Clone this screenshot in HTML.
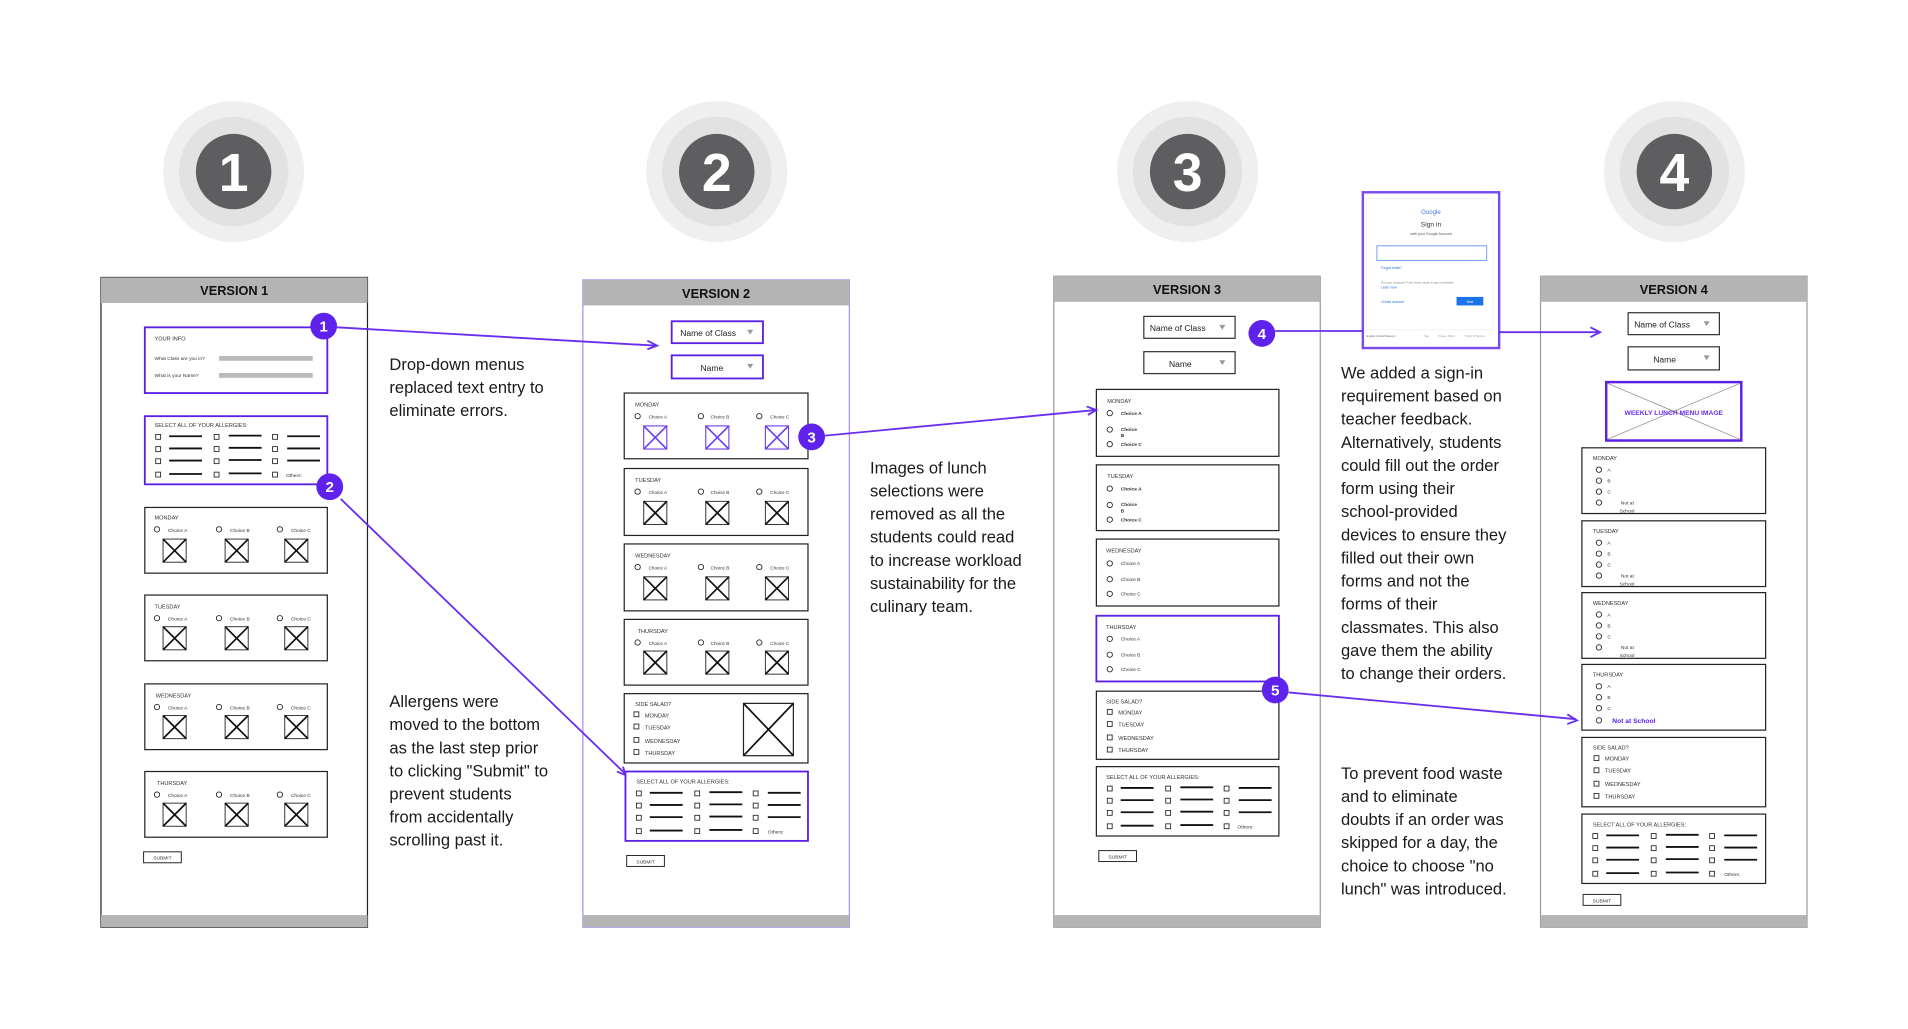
<!DOCTYPE html>
<html><head><meta charset="utf-8"><style>
html,body{margin:0;padding:0;background:#fff;}
svg{display:block;}
text{font-family:"Liberation Sans",sans-serif;}
.t{font-size:13.6px;fill:#1a1a1a;}
.s{font-size:4.6px;fill:#333;}
.l{font-size:5.2px;fill:#222;}
.h{font-size:10.5px;font-weight:bold;fill:#111;}
.b{font-size:12.5px;font-weight:bold;fill:#fff;}
.n{font-size:44px;font-weight:bold;fill:#fff;}
</style></head><body>
<svg width="1908" height="1029" viewBox="0 0 1568 845.6" preserveAspectRatio="none" xmlns="http://www.w3.org/2000/svg">
<defs>
<g id="xb"><rect x="0" y="0" width="19" height="19" fill="#fff" stroke="#333" stroke-width="0.8"/><path d="M0 0L19 19M19 0L0 19" stroke="#111" stroke-width="1.4"/></g>
<g id="xp"><rect x="0" y="0" width="19" height="19" fill="#fff" stroke="#6a3cf0" stroke-width="0.9"/><path d="M0 0L19 19M19 0L0 19" stroke="#6a3cf0" stroke-width="1.3"/></g>
<g id="ra"><circle r="2.2" fill="#fff" stroke="#222" stroke-width="0.7"/></g>
<g id="cb"><rect x="-2" y="-2" width="4" height="4" fill="#fff" stroke="#222" stroke-width="0.7"/></g>
<g id="ag">
<use href="#cb" x="11" y="17"/><use href="#cb" x="11" y="27"/><use href="#cb" x="11" y="37"/><use href="#cb" x="11" y="48"/>
<use href="#cb" x="59" y="17"/><use href="#cb" x="59" y="27"/><use href="#cb" x="59" y="37"/><use href="#cb" x="59" y="48"/>
<use href="#cb" x="107" y="17"/><use href="#cb" x="107" y="27"/><use href="#cb" x="107" y="37"/><use href="#cb" x="107" y="48"/>
<path d="M20 16.5H47M20 26.5H47M20 36.5H47M20 47.5H47M69 16H96M69 26H96M69 36H96M69 47H96M117 16.5H144M117 26.5H144M117 36.5H144" stroke="#111" stroke-width="1.5"/>
</g>
<g id="ss">
<use href="#cb" x="10" y="17"/><use href="#cb" x="10" y="27"/><use href="#cb" x="10" y="38"/><use href="#cb" x="10" y="48"/>
</g>
</defs>

<g>
<circle cx="192" cy="141" r="58" fill="#efefef"/><circle cx="192" cy="141" r="45" fill="#e2e2e2"/><circle cx="192" cy="141" r="31" fill="#5e5e61"/><text x="192" y="157" text-anchor="middle" class="n">1</text>
<circle cx="589" cy="141" r="58" fill="#efefef"/><circle cx="589" cy="141" r="45" fill="#e2e2e2"/><circle cx="589" cy="141" r="31" fill="#5e5e61"/><text x="589" y="157" text-anchor="middle" class="n">2</text>
<circle cx="976" cy="141" r="58" fill="#efefef"/><circle cx="976" cy="141" r="45" fill="#e2e2e2"/><circle cx="976" cy="141" r="31" fill="#5e5e61"/><text x="976" y="157" text-anchor="middle" class="n">3</text>
<circle cx="1376" cy="141" r="58" fill="#efefef"/><circle cx="1376" cy="141" r="45" fill="#e2e2e2"/><circle cx="1376" cy="141" r="31" fill="#5e5e61"/><text x="1376" y="157" text-anchor="middle" class="n">4</text>
</g>

<g transform="translate(83,228)">
<rect x="0" y="0" width="219" height="534" fill="#fff" stroke="#222" stroke-width="1"/>
<rect x="0" y="0" width="219" height="21" fill="#b4b4b4"/>
<rect x="0" y="524" width="219" height="10" fill="#b4b4b4"/>
<text x="109.5" y="14.5" text-anchor="middle" class="h">VERSION 1</text>
</g>
<g transform="translate(119,269)">
<rect width="150" height="54" fill="#fff" stroke="#5a20e6" stroke-width="1.5"/>
<text x="8" y="11" class="s">YOUR INFO</text>
<text x="8" y="27" class="s" style="font-size:4px">What Class are you in?</text>
<rect x="61" y="23.5" width="77" height="4" fill="#bbb"/>
<text x="8" y="41" class="s" style="font-size:4px">What is your Name?</text>
<rect x="61" y="37.5" width="77" height="4" fill="#bbb"/>
</g>
<g transform="translate(119,342)">
<rect width="150" height="56" fill="#fff" stroke="#5a20e6" stroke-width="1.5"/>
<text x="8" y="9" class="s">SELECT ALL OF YOUR ALLERGIES:</text>
<use href="#ag"/><text x="116" y="50" class="s" style="font-size:4px">Others:</text>
</g>
<g transform="translate(119,417)">
<rect width="150" height="54" fill="#fff" stroke="#222" stroke-width="1"/>
<text x="8" y="10" class="s">MONDAY</text>
<use href="#ra" x="10" y="18"/><text x="19" y="20" class="s" style="font-size:4px">Choice A</text>
<use href="#ra" x="61" y="18"/><text x="70" y="20" class="s" style="font-size:4px">Choice B</text>
<use href="#ra" x="111" y="18"/><text x="120" y="20" class="s" style="font-size:4px">Choice C</text>
<use href="#xb" x="15" y="26"/><use href="#xb" x="66" y="26"/><use href="#xb" x="115" y="26"/>
</g>
<g transform="translate(119,489)">
<rect width="150" height="54" fill="#fff" stroke="#222" stroke-width="1"/>
<text x="8" y="11" class="s">TUESDAY</text>
<use href="#ra" x="10" y="19"/><text x="19" y="21" class="s" style="font-size:4px">Choice A</text>
<use href="#ra" x="61" y="19"/><text x="70" y="21" class="s" style="font-size:4px">Choice B</text>
<use href="#ra" x="111" y="19"/><text x="120" y="21" class="s" style="font-size:4px">Choice C</text>
<use href="#xb" x="15" y="26"/><use href="#xb" x="66" y="26"/><use href="#xb" x="115" y="26"/>
</g>
<g transform="translate(119,562)">
<rect width="150" height="54" fill="#fff" stroke="#222" stroke-width="1"/>
<text x="9" y="11" class="s">WEDNESDAY</text>
<use href="#ra" x="10" y="19"/><text x="19" y="21" class="s" style="font-size:4px">Choice A</text>
<use href="#ra" x="61" y="19"/><text x="70" y="21" class="s" style="font-size:4px">Choice B</text>
<use href="#ra" x="111" y="19"/><text x="120" y="21" class="s" style="font-size:4px">Choice C</text>
<use href="#xb" x="15" y="26"/><use href="#xb" x="66" y="26"/><use href="#xb" x="115" y="26"/>
</g>
<g transform="translate(119,634)">
<rect width="150" height="54" fill="#fff" stroke="#222" stroke-width="1"/>
<text x="10" y="11" class="s">THURSDAY</text>
<use href="#ra" x="10" y="19"/><text x="19" y="21" class="s" style="font-size:4px">Choice A</text>
<use href="#ra" x="61" y="19"/><text x="70" y="21" class="s" style="font-size:4px">Choice B</text>
<use href="#ra" x="111" y="19"/><text x="120" y="21" class="s" style="font-size:4px">Choice C</text>
<use href="#xb" x="15" y="26"/><use href="#xb" x="66" y="26"/><use href="#xb" x="115" y="26"/>
</g>
<rect x="118" y="700" width="31" height="9" fill="#fff" stroke="#222" stroke-width="0.8"/><text x="133.5" y="706.5" text-anchor="middle" class="s" style="font-size:4px">SUBMIT</text>

<g transform="translate(479,230)">
<rect x="0" y="0" width="219" height="532" fill="#fff" stroke="#a98ef5" stroke-width="1"/>
<rect x="0" y="0" width="219" height="21" fill="#b4b4b4"/>
<rect x="0" y="522" width="219" height="10" fill="#b4b4b4"/>
<text x="109.5" y="15" text-anchor="middle" class="h">VERSION 2</text>
</g>
<rect x="552" y="264" width="75" height="18" fill="#fff" stroke="#5a20e6" stroke-width="1.5"/><text x="559" y="276" class="l" style="font-size:7px">Name of Class</text><path d="M614 271h5l-2.5 4z" fill="#999"/>
<rect x="552" y="292" width="75" height="19" fill="#fff" stroke="#5a20e6" stroke-width="1.5"/><text x="585" y="305" text-anchor="middle" class="l" style="font-size:7px">Name</text><path d="M614 299h5l-2.5 4z" fill="#999"/>
<g transform="translate(513,323)">
<rect width="151" height="54" fill="#fff" stroke="#222" stroke-width="1"/>
<text x="9" y="11" class="s">MONDAY</text>
<use href="#ra" x="11" y="19"/><text x="20" y="21" class="s" style="font-size:3.8px">Choice A</text>
<use href="#ra" x="63" y="19"/><text x="71" y="21" class="s" style="font-size:3.8px">Choice B</text>
<use href="#ra" x="111" y="19"/><text x="120" y="21" class="s" style="font-size:3.8px">Choice C</text>
<use href="#xp" x="16" y="27"/><use href="#xp" x="67" y="27"/><use href="#xp" x="116" y="27"/>
</g>
<g transform="translate(513,385)">
<rect width="151" height="55" fill="#fff" stroke="#222" stroke-width="1"/>
<text x="9" y="11" class="s">TUESDAY</text>
<use href="#ra" x="11" y="19"/><text x="20" y="21" class="s" style="font-size:3.8px">Choice A</text>
<use href="#ra" x="63" y="19"/><text x="71" y="21" class="s" style="font-size:3.8px">Choice B</text>
<use href="#ra" x="111" y="19"/><text x="120" y="21" class="s" style="font-size:3.8px">Choice C</text>
<use href="#xb" x="16" y="27"/><use href="#xb" x="67" y="27"/><use href="#xb" x="116" y="27"/>
</g>
<g transform="translate(513,447)">
<rect width="151" height="55" fill="#fff" stroke="#222" stroke-width="1"/>
<text x="9" y="11" class="s">WEDNESDAY</text>
<use href="#ra" x="11" y="19"/><text x="20" y="21" class="s" style="font-size:3.8px">Choice A</text>
<use href="#ra" x="63" y="19"/><text x="71" y="21" class="s" style="font-size:3.8px">Choice B</text>
<use href="#ra" x="111" y="19"/><text x="120" y="21" class="s" style="font-size:3.8px">Choice C</text>
<use href="#xb" x="16" y="27"/><use href="#xb" x="67" y="27"/><use href="#xb" x="116" y="27"/>
</g>
<g transform="translate(513,509)">
<rect width="151" height="54" fill="#fff" stroke="#222" stroke-width="1"/>
<text x="11" y="11" class="s">THURSDAY</text>
<use href="#ra" x="11" y="19"/><text x="20" y="21" class="s" style="font-size:3.8px">Choice A</text>
<use href="#ra" x="63" y="19"/><text x="71" y="21" class="s" style="font-size:3.8px">Choice B</text>
<use href="#ra" x="111" y="19"/><text x="120" y="21" class="s" style="font-size:3.8px">Choice C</text>
<use href="#xb" x="16" y="26"/><use href="#xb" x="67" y="26"/><use href="#xb" x="116" y="26"/>
</g>
<g transform="translate(513,570)">
<rect width="151" height="57" fill="#fff" stroke="#222" stroke-width="1"/>
<text x="9" y="10" class="s">SIDE SALAD?</text>
<use href="#ss"/>
<text x="17" y="19.5" class="s">MONDAY</text><text x="17" y="29.5" class="s">TUESDAY</text><text x="17" y="40.5" class="s">WEDNESDAY</text><text x="17" y="50.5" class="s">THURSDAY</text>
<rect x="98" y="8" width="41" height="43" fill="#fff" stroke="#222" stroke-width="1"/><path d="M98 8L139 51M139 8L98 51" stroke="#111" stroke-width="1.4"/>
</g>
<g transform="translate(514,634)">
<rect width="150" height="57" fill="#fff" stroke="#5a20e6" stroke-width="1.5"/>
<text x="9" y="10" class="s">SELECT ALL OF YOUR ALLERGIES:</text>
<use href="#ag" y="1"/><text x="117" y="51" class="s" style="font-size:4px">Others:</text>
</g>
<rect x="515" y="703" width="31" height="9" fill="#fff" stroke="#222" stroke-width="0.8"/><text x="530.5" y="709.5" text-anchor="middle" class="s" style="font-size:4px">SUBMIT</text>

<g transform="translate(866,227)">
<rect x="0" y="0" width="219" height="535" fill="#fff" stroke="#999" stroke-width="1"/>
<rect x="0" y="0" width="219" height="21" fill="#b4b4b4"/>
<rect x="0" y="525" width="219" height="10" fill="#b4b4b4"/>
<text x="109.5" y="14.5" text-anchor="middle" class="h">VERSION 3</text>
</g>
<rect x="940" y="260" width="75" height="18" fill="#fff" stroke="#333" stroke-width="1"/><text x="945" y="272" class="l" style="font-size:7px">Name of Class</text><path d="M1002 267h5l-2.5 4z" fill="#999"/>
<rect x="940" y="289" width="75" height="18" fill="#fff" stroke="#333" stroke-width="1"/><text x="970" y="301.5" text-anchor="middle" class="l" style="font-size:7px">Name</text><path d="M1002 296h5l-2.5 4z" fill="#999"/>
<g transform="translate(901,320)">
<rect width="150" height="55" fill="#fff" stroke="#222" stroke-width="1"/>
<text x="9" y="11" class="s">MONDAY</text>
<use href="#ra" x="11" y="19.5"/><text x="20" y="21" class="s" style="font-size:4px;font-weight:bold">Choice A</text>
<use href="#ra" x="11" y="33"/><text x="20" y="34" class="s" style="font-size:4px;font-weight:bold">Choice</text><text x="20" y="39" class="s" style="font-size:4px;font-weight:bold">B</text>
<use href="#ra" x="11" y="45"/><text x="20" y="46.5" class="s" style="font-size:4px;font-weight:bold">Choice C</text>
</g>
<g transform="translate(901,382)">
<rect width="150" height="54" fill="#fff" stroke="#222" stroke-width="1"/>
<text x="9" y="11" class="s">TUESDAY</text>
<use href="#ra" x="11" y="19.5"/><text x="20" y="21" class="s" style="font-size:4px;font-weight:bold">Choice A</text>
<use href="#ra" x="11" y="33"/><text x="20" y="34" class="s" style="font-size:4px;font-weight:bold">Choice</text><text x="20" y="39" class="s" style="font-size:4px;font-weight:bold">B</text>
<use href="#ra" x="11" y="45"/><text x="20" y="46.5" class="s" style="font-size:4px;font-weight:bold">Choice C</text>
</g>
<g transform="translate(901,443)">
<rect width="150" height="55" fill="#fff" stroke="#222" stroke-width="1"/>
<text x="8" y="11" class="s">WEDNESDAY</text>
<use href="#ra" x="11" y="20"/><text x="20" y="21.5" class="s" style="font-size:4px">Choice A</text>
<use href="#ra" x="11" y="33"/><text x="20" y="34.5" class="s" style="font-size:4px">Choice B</text>
<use href="#ra" x="11" y="45"/><text x="20" y="46.5" class="s" style="font-size:4px">Choice C</text>
</g>
<g transform="translate(901,506)">
<rect width="150" height="54" fill="#fff" stroke="#5a20e6" stroke-width="1.5"/>
<text x="8" y="11" class="s">THURSDAY</text>
<use href="#ra" x="11" y="19"/><text x="20" y="20.5" class="s" style="font-size:4px">Choice A</text>
<use href="#ra" x="11" y="32"/><text x="20" y="33.5" class="s" style="font-size:4px">Choice B</text>
<use href="#ra" x="11" y="44"/><text x="20" y="45.5" class="s" style="font-size:4px">Choice C</text>
</g>
<g transform="translate(901,568)">
<rect width="150" height="56" fill="#fff" stroke="#222" stroke-width="1"/>
<text x="8" y="10" class="s">SIDE SALAD?</text>
<use href="#ss" x="1"/>
<text x="18" y="19" class="s">MONDAY</text><text x="18" y="29" class="s">TUESDAY</text><text x="18" y="40" class="s">WEDNESDAY</text><text x="18" y="50" class="s">THURSDAY</text>
</g>
<g transform="translate(901,630)">
<rect width="150" height="57" fill="#fff" stroke="#222" stroke-width="1"/>
<text x="8" y="10" class="s">SELECT ALL OF YOUR ALLERGIES:</text>
<use href="#ag" y="1"/><text x="116" y="51" class="s" style="font-size:4px">Others:</text>
</g>
<rect x="903" y="699" width="31" height="9" fill="#fff" stroke="#222" stroke-width="0.8"/><text x="918.5" y="705.5" text-anchor="middle" class="s" style="font-size:4px">SUBMIT</text>

<g transform="translate(1120,158)">
<rect width="112" height="128" fill="#fff" stroke="#7a4cf0" stroke-width="2"/>
<rect x="3" y="5" width="104" height="108" fill="#fff" stroke="#eee" stroke-width="0.6"/>
<text x="56" y="18" text-anchor="middle" style="font-size:5px;fill:#4a7be0">Google</text>
<text x="56" y="28" text-anchor="middle" style="font-size:5.5px;fill:#333">Sign in</text>
<text x="56" y="35" text-anchor="middle" style="font-size:3px;fill:#555">with your Google Account</text>
<rect x="15" y="44" width="93" height="12" fill="#fff" stroke="#6a9ef0" stroke-width="0.8" transform="translate(-3,0) scale(0.97,1)"/>
<text x="15" y="63" style="font-size:2.8px;fill:#2a6ee0">Forgot email?</text>
<text x="15" y="75" style="font-size:2.4px;fill:#777">Not your computer? Use Guest mode to sign in privately.</text>
<text x="15" y="79" style="font-size:2.6px;fill:#2a6ee0">Learn more</text>
<text x="15" y="91" style="font-size:2.8px;fill:#2a6ee0">Create account</text>
<rect x="87" y="86" width="22" height="7" fill="#1a73e8" transform="translate(-10,0)"/>
<text x="88" y="91" text-anchor="middle" style="font-size:2.6px;fill:#fff">Next</text>
<text x="3" y="119" style="font-size:2.2px;fill:#666">English (United States) ▾</text>
<text x="50" y="119" style="font-size:2.2px;fill:#999">Help</text>
<text x="62" y="119" style="font-size:2.2px;fill:#999">Privacy Policy</text>
<text x="84" y="119" style="font-size:2.2px;fill:#999">Terms of Service</text>
</g>

<g transform="translate(1266,227)">
<rect x="0" y="0" width="219" height="535" fill="#fff" stroke="#999" stroke-width="1"/>
<rect x="0" y="0" width="219" height="21" fill="#b4b4b4"/>
<rect x="0" y="525" width="219" height="10" fill="#b4b4b4"/>
<text x="109.5" y="14.5" text-anchor="middle" class="h">VERSION 4</text>
</g>
<rect x="1338" y="257" width="75" height="18" fill="#fff" stroke="#333" stroke-width="1"/><text x="1343" y="269" class="l" style="font-size:7px">Name of Class</text><path d="M1400 264h5l-2.5 4z" fill="#999"/>
<rect x="1338" y="285" width="75" height="19" fill="#fff" stroke="#333" stroke-width="1"/><text x="1368" y="298" text-anchor="middle" class="l" style="font-size:7px">Name</text><path d="M1400 292h5l-2.5 4z" fill="#999"/>
<g transform="translate(1320,314)">
<rect width="111" height="48" fill="#fff" stroke="#5a20e6" stroke-width="2"/>
<path d="M1 1L110 47M110 1L1 47" stroke="#888" stroke-width="0.6"/>
<text x="55.5" y="27" text-anchor="middle" style="font-size:5.5px;font-weight:bold;fill:#6a2ef0">WEEKLY LUNCH MENU IMAGE</text>
</g>
<g transform="translate(1300,368)">
<rect width="151" height="54" fill="#fff" stroke="#222" stroke-width="1"/>
<text x="9" y="10" class="s">MONDAY</text>
<use href="#ra" x="14" y="18"/><text x="21" y="19.5" class="s" style="font-size:4px">A</text>
<use href="#ra" x="14" y="27"/><text x="21" y="28.5" class="s" style="font-size:4px">B</text>
<use href="#ra" x="14" y="36"/><text x="21" y="37.5" class="s" style="font-size:4px">C</text>
<use href="#ra" x="14" y="45"/><text x="32" y="46.5" class="s" style="font-size:4px">Not at</text><text x="31" y="53" class="s" style="font-size:4px">School</text>
</g>
<g transform="translate(1300,428)">
<rect width="151" height="54" fill="#fff" stroke="#222" stroke-width="1"/>
<text x="9" y="10" class="s">TUESDAY</text>
<use href="#ra" x="14" y="18"/><text x="21" y="19.5" class="s" style="font-size:4px">A</text>
<use href="#ra" x="14" y="27"/><text x="21" y="28.5" class="s" style="font-size:4px">B</text>
<use href="#ra" x="14" y="36"/><text x="21" y="37.5" class="s" style="font-size:4px">C</text>
<use href="#ra" x="14" y="45"/><text x="32" y="46.5" class="s" style="font-size:4px">Not at</text><text x="31" y="53" class="s" style="font-size:4px">School</text>
</g>
<g transform="translate(1300,487)">
<rect width="151" height="54" fill="#fff" stroke="#222" stroke-width="1"/>
<text x="9" y="10" class="s">WEDNESDAY</text>
<use href="#ra" x="14" y="18"/><text x="21" y="19.5" class="s" style="font-size:4px">A</text>
<use href="#ra" x="14" y="27"/><text x="21" y="28.5" class="s" style="font-size:4px">B</text>
<use href="#ra" x="14" y="36"/><text x="21" y="37.5" class="s" style="font-size:4px">C</text>
<use href="#ra" x="14" y="45"/><text x="32" y="46.5" class="s" style="font-size:4px">Not at</text><text x="31" y="53" class="s" style="font-size:4px">School</text>
</g>
<g transform="translate(1300,546)">
<rect width="151" height="54" fill="#fff" stroke="#222" stroke-width="1"/>
<text x="9" y="10" class="s">THURSDAY</text>
<use href="#ra" x="14" y="18"/><text x="21" y="19.5" class="s" style="font-size:4px">A</text>
<use href="#ra" x="14" y="27"/><text x="21" y="28.5" class="s" style="font-size:4px">B</text>
<use href="#ra" x="14" y="36"/><text x="21" y="37.5" class="s" style="font-size:4px">C</text>
<use href="#ra" x="14" y="46"/><text x="25" y="48" style="font-size:5.5px;font-weight:bold;fill:#5a20e6">Not at School</text>
</g>
<g transform="translate(1300,606)">
<rect width="151" height="57" fill="#fff" stroke="#222" stroke-width="1"/>
<text x="9" y="10" class="s">SIDE SALAD?</text>
<use href="#ss" x="2"/>
<text x="19" y="19" class="s">MONDAY</text><text x="19" y="29" class="s">TUESDAY</text><text x="19" y="40" class="s">WEDNESDAY</text><text x="19" y="50" class="s">THURSDAY</text>
</g>
<g transform="translate(1300,669)">
<rect width="151" height="57" fill="#fff" stroke="#222" stroke-width="1"/>
<text x="9" y="10" class="s">SELECT ALL OF YOUR ALLERGIES:</text>
<use href="#ag" y="1"/><text x="117" y="51" class="s" style="font-size:4px">Others:</text>
</g>
<rect x="1301" y="735" width="31" height="9" fill="#fff" stroke="#222" stroke-width="0.8"/><text x="1316.5" y="741.5" text-anchor="middle" class="s" style="font-size:4px">SUBMIT</text>

<g stroke="#6a2ef0" stroke-width="1.5" fill="none">
<path d="M277 269L538 284"/><path d="M532 280L540 284L532 287"/>
<path d="M280 410L514 636"/><path d="M507 634L514 637L512 630"/>
<path d="M678 358L900 337"/><path d="M893 334L901 337L894 341"/>
<path d="M1048 272H1120"/>
<path d="M1232 273H1314"/><path d="M1307 269L1315 273L1307 277"/>
<path d="M1059 569L1295 591"/><path d="M1288 587L1296 592L1288 595"/>
</g>

<g>
<circle cx="266" cy="268" r="11" fill="#5f22ec"/><text x="266" y="272.5" text-anchor="middle" class="b">1</text>
<circle cx="271" cy="400" r="11" fill="#5f22ec"/><text x="271" y="404.5" text-anchor="middle" class="b">2</text>
<circle cx="667" cy="359" r="11" fill="#5f22ec"/><text x="667" y="363.5" text-anchor="middle" class="b">3</text>
<circle cx="1037" cy="274" r="11" fill="#5f22ec"/><text x="1037" y="278.5" text-anchor="middle" class="b">4</text>
<circle cx="1048" cy="567" r="11" fill="#5f22ec"/><text x="1048" y="571.5" text-anchor="middle" class="b">5</text>
</g>

<text class="t"><tspan x="320" y="304">Drop-down menus</tspan><tspan x="320" y="323">replaced text entry to</tspan><tspan x="320" y="342">eliminate errors.</tspan></text>
<text class="t"><tspan x="320" y="581">Allergens were</tspan><tspan x="320" y="600">moved to the bottom</tspan><tspan x="320" y="619">as the last step prior</tspan><tspan x="320" y="638">to clicking "Submit" to</tspan><tspan x="320" y="657">prevent students</tspan><tspan x="320" y="676">from accidentally</tspan><tspan x="320" y="695">scrolling past it.</tspan></text>
<text class="t"><tspan x="715" y="389">Images of lunch</tspan><tspan x="715" y="408">selections were</tspan><tspan x="715" y="427">removed as all the</tspan><tspan x="715" y="446">students could read</tspan><tspan x="715" y="465">to increase workload</tspan><tspan x="715" y="484">sustainability for the</tspan><tspan x="715" y="503">culinary team.</tspan></text>
<text class="t"><tspan x="1102" y="311">We added a sign-in</tspan><tspan x="1102" y="330">requirement based on</tspan><tspan x="1102" y="349">teacher feedback.</tspan><tspan x="1102" y="368">Alternatively, students</tspan><tspan x="1102" y="387">could fill out the order</tspan><tspan x="1102" y="406">form using their</tspan><tspan x="1102" y="425">school-provided</tspan><tspan x="1102" y="444">devices to ensure they</tspan><tspan x="1102" y="463">filled out their own</tspan><tspan x="1102" y="482">forms and not the</tspan><tspan x="1102" y="501">forms of their</tspan><tspan x="1102" y="520">classmates. This also</tspan><tspan x="1102" y="539">gave them the ability</tspan><tspan x="1102" y="558">to change their orders.</tspan></text>
<text class="t"><tspan x="1102" y="640">To prevent food waste</tspan><tspan x="1102" y="659">and to eliminate</tspan><tspan x="1102" y="678">doubts if an order was</tspan><tspan x="1102" y="697">skipped for a day, the</tspan><tspan x="1102" y="716">choice to choose "no</tspan><tspan x="1102" y="735">lunch" was introduced.</tspan></text>
</svg>
</body></html>
